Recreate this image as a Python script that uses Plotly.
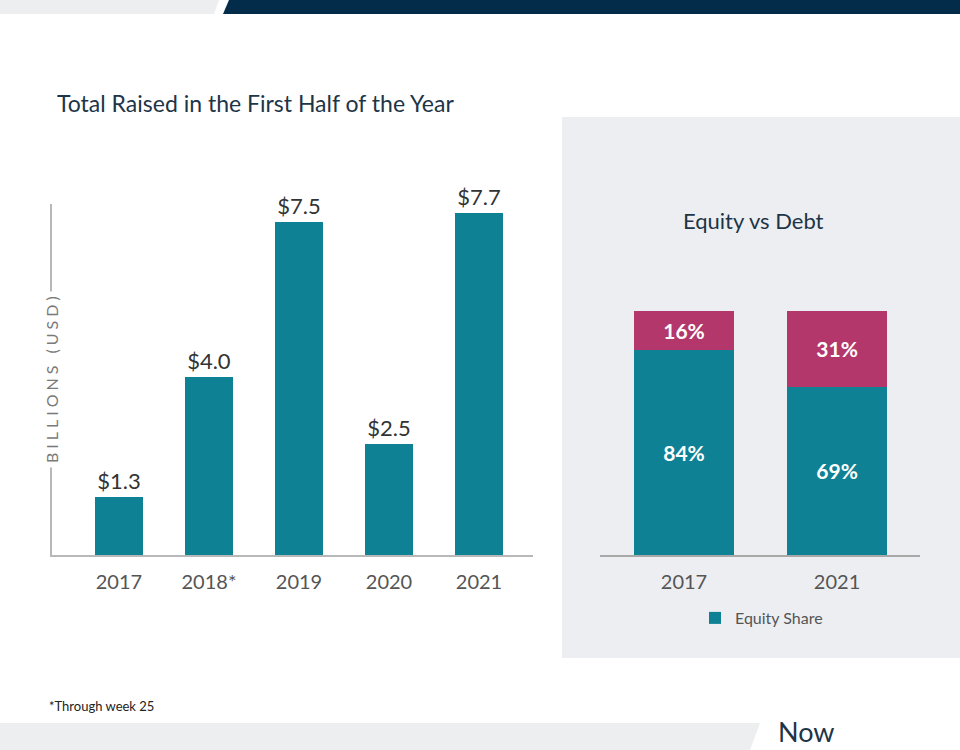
import plotly.graph_objects as go

# ---- data ----
years_total = ["2017", "2018*", "2019", "2020", "2021"]
raised_billions = [1.3, 4.0, 7.5, 2.5, 7.7]

years_split = ["2017", "2021"]
equity_share = [84, 69]
debt_share = [16, 31]

TEAL = "#0f8195"
MAGENTA = "#b3376a"
NAVY = "#1d3547"
GREY_TXT = "#555555"
PANEL = "#edeef2"
FONT = "Lato, Open Sans, sans-serif"

W, H = 960, 750
def px(x):
    return x / W
def py(y):
    return (H - y) / H

fig = go.Figure()

fig.add_trace(go.Bar(
    x=years_total, y=raised_billions, xaxis="x", yaxis="y",
    marker=dict(color=TEAL, line=dict(width=0)), width=0.53,
    text=[f"${v:.1f}" for v in raised_billions], textposition="outside",
    textfont=dict(size=22, color="#333333", family=FONT),
    cliponaxis=False, showlegend=False, hoverinfo="skip",
))

fig.add_trace(go.Bar(
    x=years_split, y=equity_share, xaxis="x2", yaxis="y2", name="Equity Share",
    marker=dict(color=TEAL, line=dict(width=0)), width=0.654,
    text=[f"{v}%" for v in equity_share], textposition="inside",
    insidetextanchor="middle",
    textfont=dict(size=21, color="white", family=FONT, weight="bold"),
    showlegend=True, hoverinfo="skip",
))
fig.add_trace(go.Bar(
    x=years_split, y=debt_share, xaxis="x2", yaxis="y2", name="Debt Share",
    marker=dict(color=MAGENTA, line=dict(width=0)), width=0.654,
    text=[f"{v}%" for v in debt_share], textposition="inside",
    insidetextanchor="middle",
    textfont=dict(size=21, color="white", family=FONT, weight="bold"),
    showlegend=False, hoverinfo="skip",
))

shapes = [
    # right grey panel
    dict(type="rect", xref="paper", yref="paper", x0=px(562), x1=px(960),
         y0=py(658), y1=py(117), fillcolor=PANEL, line=dict(width=0), layer="below"),
    # top banner
    dict(type="path", xref="paper", yref="paper",
         path=f"M 0 1 L {px(219)} 1 L {px(214)} {py(14)} L 0 {py(14)} Z",
         fillcolor="#eceef0", line=dict(width=0), layer="below"),
    dict(type="path", xref="paper", yref="paper",
         path=f"M {px(229)} 1 L 1 1 L 1 {py(14)} L {px(223)} {py(14)} Z",
         fillcolor="#022c4a", line=dict(width=0), layer="below"),
    # bottom band
    dict(type="path", xref="paper", yref="paper",
         path=f"M 0 {py(723)} L {px(760)} {py(723)} L {px(750)} 0 L 0 0 Z",
         fillcolor="#eceef0", line=dict(width=0), layer="below"),
]

annotations = [
    dict(text="Total Raised in the First Half of the Year", xref="paper", yref="paper",
         x=px(55), y=py(103), xanchor="left", yanchor="middle", showarrow=False,
         font=dict(size=23, color=NAVY, family=FONT)),
    dict(text="Equity vs Debt", xref="paper", yref="paper",
         x=px(753), y=py(220), xanchor="center", yanchor="middle", showarrow=False,
         font=dict(size=22, color=NAVY, family=FONT)),
    dict(text="\u2009\u2009".join("BILLIONS (USD)"), xref="paper", yref="paper",
         x=px(52), y=py(380), xanchor="center", yanchor="middle", showarrow=False,
         textangle=-90, bgcolor="white", borderpad=4,
         font=dict(size=16, color="#7a7a7a", family=FONT)),
    dict(text="*Through week 25", xref="paper", yref="paper",
         x=px(47), y=py(706), xanchor="left", yanchor="middle", showarrow=False,
         font=dict(size=13, color="#222222", family="Liberation Sans Narrow, Lato, sans-serif")),
    dict(text="Now", xref="paper", yref="paper",
         x=px(776), y=0, xanchor="left", yanchor="bottom", showarrow=False,
         font=dict(size=27, color=NAVY, family=FONT)),
]

fig.update_layout(
    width=W, height=H, margin=dict(l=0, r=0, t=0, b=0),
    paper_bgcolor="white", plot_bgcolor="rgba(0,0,0,0)",
    barmode="stack", font=dict(family=FONT, color=GREY_TXT),
    shapes=shapes, annotations=annotations,
    xaxis=dict(domain=[px(52), px(533)], range=[-0.744, 4.6], type="category",
               showline=True, linecolor="#b8b8b8", linewidth=1.5, ticks="",
               showgrid=False, zeroline=False, ticklabelstandoff=8,
               tickfont=dict(size=20, color=GREY_TXT, family=FONT), anchor="y"),
    yaxis=dict(domain=[py(555), py(204)], range=[0, 7.9], showline=True,
               linecolor="#b8b8b8", linewidth=1.5, showgrid=False, zeroline=False,
               ticks="inside", tickvals=[7.9], ticklen=22, tickcolor="#b8b8b8",
               tickwidth=1.5, showticklabels=False, anchor="x"),
    xaxis2=dict(domain=[px(600), px(920)], range=[-0.549, 1.542], type="category",
                showline=True, linecolor="#a8a8a8", linewidth=1.5, ticks="",
                showgrid=False, zeroline=False, ticklabelstandoff=8,
                tickfont=dict(size=20, color=GREY_TXT, family=FONT), anchor="y2"),
    yaxis2=dict(domain=[py(555), py(311)], range=[0, 100], visible=False, anchor="x2"),
    legend=dict(orientation="h", x=px(695), y=py(618), xanchor="left", yanchor="middle",
                bgcolor="rgba(0,0,0,0)", font=dict(size=16, color=GREY_TXT, family=FONT),
                itemwidth=30),
)

fig.write_html("out.html")
